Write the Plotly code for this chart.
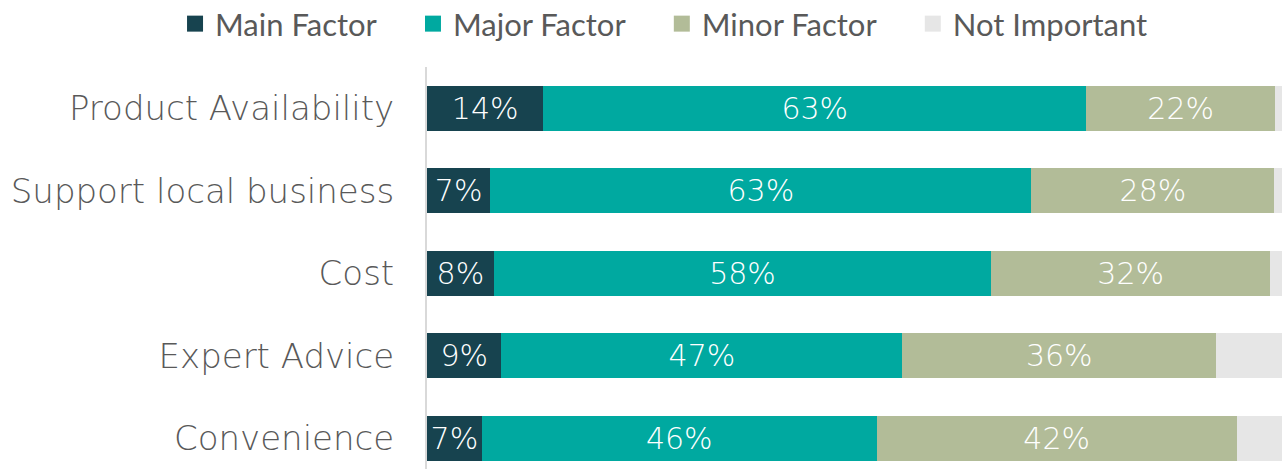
import plotly.graph_objects as go

categories = ["Product Availability", "Support local business", "Cost", "Expert Advice", "Convenience"]
series_names = ["Main Factor", "Major Factor", "Minor Factor", "Not Important"]
main_factor = [13.6, 7.4, 7.8, 8.7, 6.4]
major_factor = [63.5, 63.3, 58.2, 46.9, 46.2]
minor_factor = [22.1, 28.4, 32.6, 36.7, 42.1]
not_important = [0.8, 0.9, 1.4, 7.7, 5.3]
main_labels = ["14%", "7%", "8%", "9%", "7%"]
major_labels = ["63%", "63%", "58%", "47%", "46%"]
minor_labels = ["22%", "28%", "32%", "36%", "42%"]
not_labels = ["", "", "", "", ""]

colors = ["#17434F", "#00A9A0", "#B2BC98", "#E6E6E6"]
values = [main_factor, major_factor, minor_factor, not_important]
labels = [main_labels, major_labels, minor_labels, not_labels]

label_font = dict(family="DejaVu Sans", size=34, color="#595959", weight=200)

fig = go.Figure()
for name, vals, txt, col in zip(series_names, values, labels, colors):
    fig.add_trace(go.Bar(
        y=categories, x=vals, orientation="h", name=name,
        marker=dict(color=col, line=dict(width=0)),
        text=txt, textposition="inside", insidetextanchor="middle",
        textfont=dict(family="DejaVu Sans", size=30, color="white", weight=200),
        showlegend=False, hoverinfo="x+y+name",
    ))
pad = "\u00a0" * 4
for name, col in zip(series_names, colors):
    fig.add_trace(go.Scatter(
        x=[None], y=[None], mode="markers", name=name + pad,
        marker=dict(symbol="square", size=18, color=col),
        showlegend=True,
    ))

fig.update_layout(
    width=1282, height=469,
    margin=dict(l=427, r=0, t=67, b=0, autoexpand=False),
    barmode="stack", bargap=0.46,
    plot_bgcolor="white", paper_bgcolor="white",
    uniformtext=dict(minsize=30, mode="show"),
    legend=dict(orientation="h", x=-0.2947, xanchor="left", y=1.107, yanchor="middle",
                font=dict(family="Lato", size=31, color="#595959"),
                bgcolor="rgba(0,0,0,0)", traceorder="normal"),
    xaxis=dict(range=[0, 100], showgrid=False, zeroline=False, showticklabels=False,
               showline=False, fixedrange=True),
    yaxis=dict(type="category", categoryorder="array", categoryarray=categories,
               range=[4.373, -0.5], showgrid=False, zeroline=False,
               showline=True, linecolor="#D9D9D9", linewidth=2,
               tickfont=label_font, ticklabelstandoff=24, ticks=""),
)

fig.write_html("out.html", config={"displayModeBar": False},
               post_script="document.body.style.margin='0';")
